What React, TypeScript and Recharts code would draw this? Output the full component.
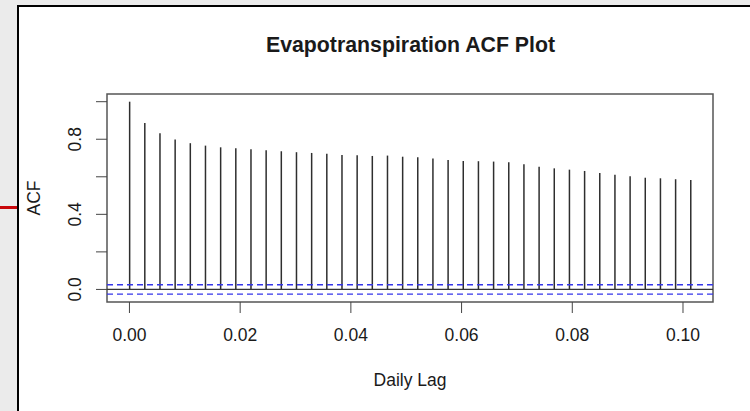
import React from "react"
import { ComposedChart, Bar, XAxis, YAxis, ReferenceLine, ReferenceArea } from "recharts"

// lag in years (daily series, 365 obs per unit)
const lags = [
  0, 0.00274, 0.00548, 0.00822, 0.01096, 0.0137, 0.01644, 0.01918, 0.02192, 0.02466,
  0.0274, 0.03014, 0.03288, 0.03562, 0.03836, 0.0411, 0.04384, 0.04658, 0.04932, 0.05205,
  0.05479, 0.05753, 0.06027, 0.06301, 0.06575, 0.06849, 0.07123, 0.07397, 0.07671, 0.07945,
  0.08219, 0.08493, 0.08767, 0.09041, 0.09315, 0.09589, 0.09863, 0.10137,
]

const acfValues = [
  1.0, 0.887, 0.832, 0.798, 0.779, 0.766, 0.757, 0.752, 0.747, 0.741,
  0.736, 0.731, 0.727, 0.723, 0.716, 0.715, 0.711, 0.713, 0.707, 0.704,
  0.697, 0.69, 0.684, 0.683, 0.681, 0.677, 0.667, 0.654, 0.645, 0.638,
  0.631, 0.62, 0.611, 0.603, 0.595, 0.592, 0.587, 0.583,
]

// 95% white-noise bounds
const ciBound = 0.025

const xTicks = [0, 0.02, 0.04, 0.06, 0.08, 0.1]
const yTicks = [0, 0.2, 0.4, 0.6, 0.8, 1.0]
const yLabeled = [0, 0.4, 0.8]

const xDomain: [number, number] = [-0.004055, 0.10542]
const yDomain: [number, number] = [-0.067, 1.041]

const data = lags.map((lag, i) => ({ lag, acf: acfValues[i] }))

const FONT = "'Liberation Sans', Arial, Helvetica, sans-serif"
const INK = "#1a1a1a"

function XTick(props: any) {
  const { x, y, payload } = props
  return (
    <text x={x} y={y + 26} textAnchor="middle" fontSize={17.5} fontFamily={FONT} fill={INK}>
      {payload.value.toFixed(2)}
    </text>
  )
}

function YTick(props: any) {
  const { x, y, payload } = props
  if (!yLabeled.some((v) => Math.abs(v - payload.value) < 1e-9)) return <g />
  const bx = x - 15
  return (
    <text x={bx} y={y} transform={`rotate(-90 ${bx} ${y})`} textAnchor="middle"
      fontSize={17.5} fontFamily={FONT} fill={INK}>
      {payload.value.toFixed(1)}
    </text>
  )
}

export default function App() {
  return (
    <div style={{ position: "fixed", left: 0, top: 0, width: 750, height: 411, background: "#ebebeb", overflow: "hidden" }}>
      {/* white panel with dark frame */}
      <div style={{ position: "absolute", left: 17, top: 5, width: 760, height: 420, background: "#fff",
        borderLeft: "2px solid #000", borderTop: "2px solid #000" }} />
      <div style={{ position: "absolute", left: 0, top: 206, width: 17, height: 2.5, background: "#c8070b" }} />
      <div style={{ position: "absolute", left: 0, top: 0 }}>
        <ComposedChart width={750} height={411} data={data}
          margin={{ top: 94, right: 37, bottom: 0, left: 0 }}>
          <text x={410.5} y={52} textAnchor="middle" fontSize={21.3} fontWeight="bold" fontFamily={FONT} fill={INK}>
            Evapotranspiration ACF Plot
          </text>
          <XAxis dataKey="lag" type="number" domain={xDomain} ticks={xTicks} allowDataOverflow
            height={109} axisLine={false} tickSize={11} tickLine={{ stroke: "#444" }} tick={<XTick />}
            label={(p: any) => {
              const vb = p.viewBox
              return (
                <text x={vb.x + vb.width / 2} y={vb.y + 84} textAnchor="middle" fontSize={17.5}
                  fontFamily={FONT} fill={INK}>Daily Lag</text>
              )
            }} />
          <YAxis type="number" domain={yDomain} ticks={yTicks} allowDataOverflow
            width={107} axisLine={false} tickSize={11} tickMargin={0} tickLine={{ stroke: "#444" }} tick={<YTick />}
            label={(p: any) => {
              const vb = p.viewBox
              const cx = vb.x + 39.5
              const cy = vb.y + vb.height / 2
              return (
                <text x={cx} y={cy} transform={`rotate(-90 ${cx} ${cy})`} textAnchor="middle"
                  fontSize={17.5} fontFamily={FONT} fill={INK}>ACF</text>
              )
            }} />
          <ReferenceArea x1={xDomain[0]} x2={xDomain[1]} y1={yDomain[0]} y2={yDomain[1]}
            fill="#fff" fillOpacity={0} stroke="#555" strokeWidth={1.5} ifOverflow="visible" />
          <Bar dataKey="acf" barSize={1.5} fill="#2e2e2e" isAnimationActive={false} />
          <ReferenceLine y={0} stroke="#333" strokeWidth={1.2} />
          <ReferenceLine y={ciBound} stroke="#3535ea" strokeWidth={1.3} strokeDasharray="6 4" />
          <ReferenceLine y={-ciBound} stroke="#3535ea" strokeWidth={1.3} strokeDasharray="6 4" />
        </ComposedChart>
      </div>
    </div>
  )
}
